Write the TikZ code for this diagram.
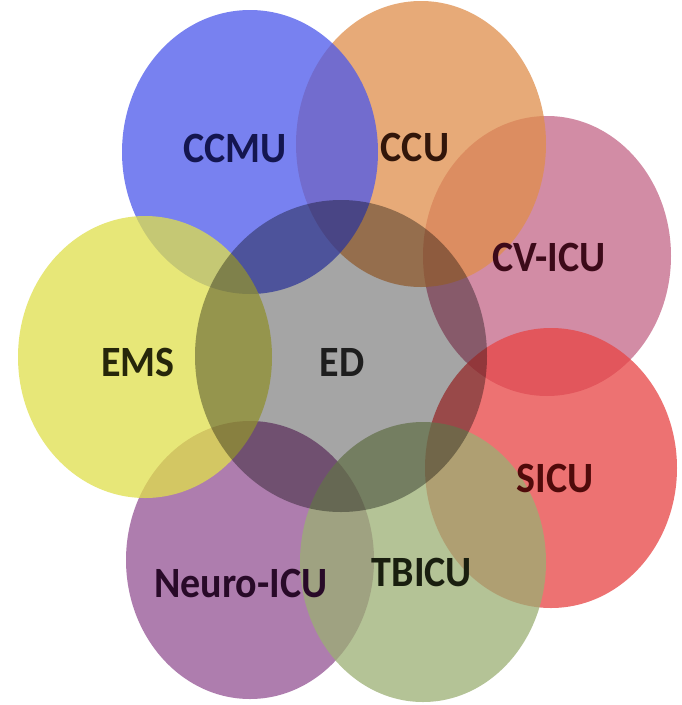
\documentclass[tikz,border=0pt]{standalone}
\usepackage{fontspec}
\newfontfamily\labfont{Carlito}
\definecolor{cBlue}{RGB}{75,88,235}
\definecolor{cOrange}{RGB}{224,142,75}
\definecolor{cPink}{RGB}{195,102,135}
\definecolor{cRed}{RGB}{232,68,68}
\definecolor{cSage}{RGB}{155,175,115}
\definecolor{cPurple}{RGB}{148,82,148}
\definecolor{cYellow}{RGB}{224,224,75}
\definecolor{cGray}{RGB}{165,165,165}
\definecolor{tBlue}{RGB}{20,22,80}
\definecolor{tBrown}{RGB}{50,22,10}
\definecolor{tMaroon}{RGB}{60,10,25}
\definecolor{tOlive}{RGB}{38,38,10}
\definecolor{tDark}{RGB}{30,30,30}
\definecolor{tRed}{RGB}{80,10,10}
\definecolor{tGreen}{RGB}{25,30,15}
\definecolor{tPurple}{RGB}{40,10,40}
\tikzset{
  blob/.style={fill=#1, fill opacity=0.75},
  lab/.style={font=\labfont\bfseries\fontsize{40}{44}\selectfont, inner sep=0pt, text=#1, yscale=1.08}
}
\begin{document}
\begin{tikzpicture}[x=1pt,y=-1pt]
\fill[white] (0,0) rectangle (682,705);
\useasboundingbox (0,0) rectangle (682,705);
% outer sets, bottom to top
\fill[blob=cPink]   (547,256) ellipse [x radius=124, y radius=140];
\fill[blob=cOrange] (421,144) ellipse [x radius=125, y radius=143];
\fill[blob=cBlue]   (250,152) ellipse [x radius=128, y radius=142];
\fill[blob=cPurple] (250,560) ellipse [x radius=124, y radius=139];
\fill[blob=cYellow] (145,357) ellipse [x radius=127, y radius=141];
\fill[blob=cRed]    (551,468) ellipse [x radius=126, y radius=140];
\fill[blob=cSage]   (423,562) ellipse [x radius=123, y radius=140];
% central set
\begin{scope}[blend mode=multiply]
\fill[cGray] (341,356) ellipse [x radius=146, y radius=156];
\end{scope}
% labels
\node[lab=tBlue]   (ccmu)  at (235,148) {CCMU};
\node[lab=tBrown]  (ccu)   at (415,147) {CCU};
\node[lab=tMaroon] (cvicu) at (549,257) {CV-ICU};
\node[lab=tOlive]  (ems)   at (138,362) {EMS};
\node[lab=tDark]   (ed)    at (342,362) {ED};
\node[lab=tRed]    (sicu)  at (555,478) {SICU};
\node[lab=tGreen]  (tbicu) at (422,572) {TBICU};
\node[lab=tPurple] (neuro) at (241,583) {Neuro-ICU};
\end{tikzpicture}
\end{document}
